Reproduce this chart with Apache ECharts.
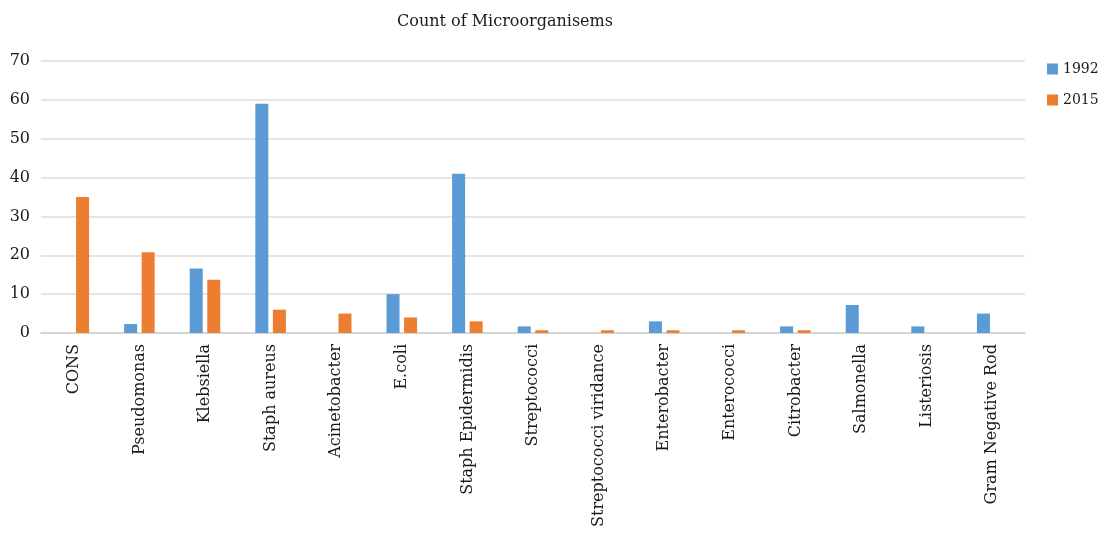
<!DOCTYPE html>
<html>
<head>
<meta charset="utf-8">
<script src="https://cdn.jsdelivr.net/npm/echarts@6/dist/echarts.min.js"></script>
<style>
  html, body { margin: 0; padding: 0; background: #fff; }
  #chart { width: 1101px; height: 534px; }
</style>
</head>
<body>
<div id="chart"></div>
<script>
// Microorganism counts per species, 1992 vs 2015
var categories = ['CONS', 'Pseudomonas', 'Klebsiella', 'Staph aureus', 'Acinetobacter', 'E.coli',
  'Staph Epidermidis', 'Streptococci', 'Streptococci viridance', 'Enterobacter', 'Enterococci',
  'Citrobacter', 'Salmonella', 'Listeriosis', 'Gram Negative Rod'];
var seriesNames = ['1992', '2015'];
var values1992 = [0, 2.3, 16.6, 59, 0, 10, 41, 1.7, 0, 3, 0, 1.7, 7.2, 1.7, 5];
var values2015 = [35, 20.8, 13.7, 6, 5, 4, 3, 0.7, 0.7, 0.7, 0.7, 0.7, 0, 0, 0];
var yTicks = [0, 10, 20, 30, 40, 50, 60, 70];

var FONT = 'DejaVu Serif';
var TEXT = '#1a1a1a';
var chart = echarts.init(document.getElementById('chart'));
chart.setOption({
  animation: false,
  title: {
    text: 'Count of Microorganisems',
    left: 500, top: 9, textAlign: 'center',
    textStyle: { fontFamily: FONT, fontSize: 16, fontWeight: 'normal', color: TEXT }
  },
  legend: {
    orient: 'vertical', left: 1042, top: 57, itemGap: 17,
    itemWidth: 11, itemHeight: 11, icon: 'rect',
    textStyle: { fontFamily: FONT, fontSize: 14, color: TEXT },
    data: seriesNames
  },
  grid: { left: 41, right: 76, top: 61, bottom: 201, containLabel: false },
  xAxis: {
    type: 'category', data: categories,
    axisLine: { lineStyle: { color: '#d0d0d0', width: 1.5 } },
    axisTick: { show: false },
    axisLabel: { rotate: 90, interval: 0, margin: 11, fontFamily: FONT, fontSize: 16, color: TEXT }
  },
  yAxis: {
    type: 'value', min: 0, max: 70, interval: 10,
    axisLine: { show: false }, axisTick: { show: false },
    splitLine: { lineStyle: { color: '#dcdcdc', width: 1.5 } },
    axisLabel: {
      margin: 11, fontFamily: FONT, fontSize: 16, color: TEXT,
      formatter: function (v) { return yTicks.indexOf(v) >= 0 ? String(v) : ''; }
    }
  },
  series: [
    { name: seriesNames[0], type: 'bar', data: values1992, barWidth: 13, barGap: '35%',
      itemStyle: { color: '#5b9bd5' } },
    { name: seriesNames[1], type: 'bar', data: values2015, barWidth: 13,
      itemStyle: { color: '#ed7d31' } }
  ]
});
</script>
</body>
</html>
